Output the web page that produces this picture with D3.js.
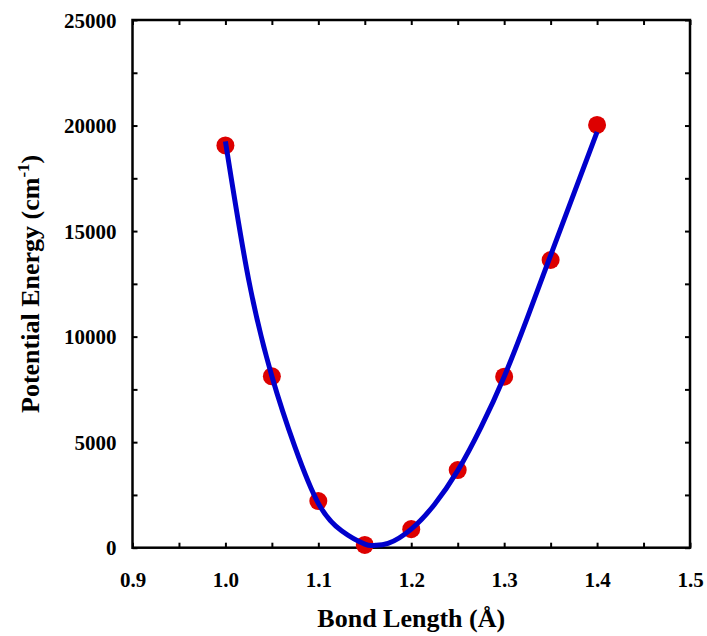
<!DOCTYPE html>
<html>
<head>
<meta charset="utf-8">
<script src="https://cdn.jsdelivr.net/npm/d3@7"></script>
<style>
  html, body { margin: 0; padding: 0; background: #fff; }
  svg { display: block; }
  text { font-family: "Liberation Serif", "Times New Roman", serif; font-weight: bold; fill: #000; }
</style>
</head>
<body>
<svg id="chart" width="707" height="636"></svg>
<script>
// Measured data points (bond length in Å, energy in cm^-1)
const bondLengths = [1.00, 1.05, 1.10, 1.15, 1.20, 1.25, 1.30, 1.35, 1.40];
const energies    = [19060, 8120, 2210, 130, 880, 3680, 8100, 13630, 20030];

// Fitted curve
const curveX = [1.000, 1.025, 1.050, 1.075, 1.100, 1.125, 1.150, 1.160, 1.175, 1.200, 1.225, 1.250, 1.275, 1.300, 1.325, 1.350, 1.375, 1.400];
const curveY = [19250, 12700, 8120, 4750, 2100, 800, 170, 110, 200, 880, 2050, 3650, 5700, 8100, 10900, 13850, 16780, 19700];

// Tick labels
const xTickValues = [0.9, 1.0, 1.1, 1.2, 1.3, 1.4, 1.5];
const xMinorTicks = [0.9, 0.95, 1.0, 1.05, 1.1, 1.15, 1.2, 1.25, 1.3, 1.35, 1.4, 1.45, 1.5];
const yTickValues = [0, 5000, 10000, 15000, 20000, 25000];
const yMinorTicks = [0, 2500, 5000, 7500, 10000, 12500, 15000, 17500, 20000, 22500, 25000];

const xTitle = "Bond Length (Å)";
const yTitleMain = "Potential Energy (cm";
const yTitleSup = "-1";

const W = 707, H = 636;
const m = { left: 132.5, top: 20, right: 17, bottom: 88.3 };
const iw = W - m.left - m.right, ih = H - m.top - m.bottom;

const svg = d3.select("#chart");
const g = svg.append("g").attr("transform", `translate(${m.left},${m.top})`);

const x = d3.scaleLinear().domain([0.9, 1.5]).range([0, iw]);
const y = d3.scaleLinear().domain([0, 25000]).range([ih, 0]);

const tickLen = 5;

const fmtX = d3.format(".1f");
const xb = g.append("g").attr("transform", `translate(0,${ih})`)
  .call(d3.axisBottom(x).tickValues(xMinorTicks).tickSizeInner(-tickLen).tickSizeOuter(0)
    .tickFormat(d => xTickValues.some(v => Math.abs(v - d) < 1e-9) ? fmtX(d) : ""));
const xt = g.append("g")
  .call(d3.axisTop(x).tickValues(xMinorTicks).tickSizeInner(-tickLen).tickSizeOuter(0).tickFormat(""));
const yl = g.append("g")
  .call(d3.axisLeft(y).tickValues(yMinorTicks).tickSizeInner(-tickLen).tickSizeOuter(0)
    .tickFormat(d => yTickValues.includes(d) ? String(d) : ""));
const yr = g.append("g").attr("transform", `translate(${iw},0)`)
  .call(d3.axisRight(y).tickValues(yMinorTicks).tickSizeInner(-tickLen).tickSizeOuter(0).tickFormat(""));

[xb, xt, yl, yr].forEach(a => {
  a.select(".domain").remove();
  a.selectAll(".tick line").attr("stroke", "#000").attr("stroke-width", 2);
  a.selectAll(".tick text").style("font-size", "21px").style("font-family", "'Liberation Serif', serif").style("font-weight", "bold").attr("fill", "#000");
});
xb.selectAll(".tick text").attr("dy", null).attr("y", 39);
yl.selectAll(".tick text").attr("x", -16).attr("dy", "0.34em");

// Frame
g.append("rect").attr("x", 0).attr("y", 0).attr("width", iw).attr("height", ih)
  .attr("fill", "none").attr("stroke", "#000").attr("stroke-width", 2.5);

// Points
g.selectAll("circle.pt").data(bondLengths.map((b, i) => [b, energies[i]]))
  .enter().append("circle").attr("class", "pt")
  .attr("cx", d => x(d[0])).attr("cy", d => y(d[1])).attr("r", 9)
  .attr("fill", "#dd0000");

// Fit curve
const line = d3.line().x(d => x(d[0])).y(d => y(d[1])).curve(d3.curveNatural);
g.append("path").datum(curveX.map((v, i) => [v, curveY[i]]))
  .attr("d", line).attr("fill", "none").attr("stroke", "#0000cc").attr("stroke-width", 5);

// Axis titles
svg.append("text").attr("x", m.left + iw / 2).attr("y", 627).attr("text-anchor", "middle")
  .style("font-size", "26px").text(xTitle);

const yt = svg.append("text").attr("transform", `translate(39,${m.top + ih / 2}) rotate(-90)`)
  .attr("text-anchor", "middle").style("font-size", "26px");
yt.append("tspan").text(yTitleMain);
yt.append("tspan").attr("dy", -10).style("font-size", "17px").text(yTitleSup);
yt.append("tspan").attr("dy", 10).text(")");
</script>
</body>
</html>
